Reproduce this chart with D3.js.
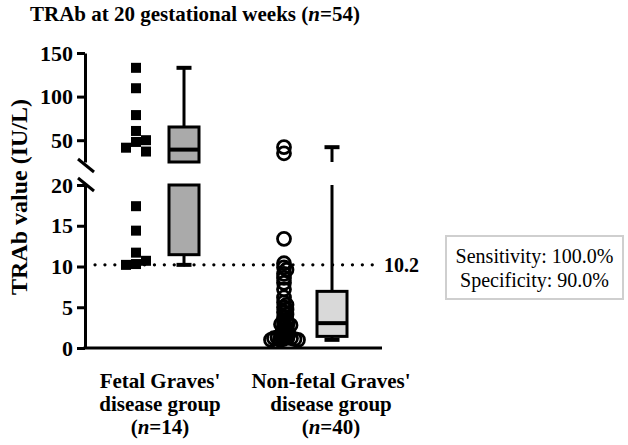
<!DOCTYPE html>
<html>
<head>
<meta charset="utf-8">
<script src="https://cdn.jsdelivr.net/npm/d3@7"></script>
<style>
  body { margin: 0; background: #fff; }
  svg { display: block; font-family: "Liberation Serif", "Times New Roman", serif; }
</style>
</head>
<body>
<svg id="chart" width="628" height="445"></svg>
<script>
// data
var groups = ["fetal", "nonfetal"];
var groupLines = [["Fetal Graves'", "disease group"], ["Non-fetal Graves'", "disease group"]];
var groupN = [14, 40];
var fetalValues = [133, 109.6, 78.8, 60.6, 50, 48, 41.4, 37, 17.4, 14.4, 11.7, 10.7, 10.3, 10.2];
var nonFetalValues = [42, 35, 13.4, 10.4, 9.9, 9.6, 9.1, 8.6, 8.0, 7.2,
  6.2, 5.6, 5.3, 5.0, 4.7, 4.4, 4.1, 3.7, 3.4, 3.1,
  3.0, 2.9, 2.8, 2.6, 2.4, 2.2, 2.0, 1.8, 1.7, 1.5,
  1.4, 1.3, 1.3, 1.2, 1.2, 1.1, 1.1, 1.0, 1.0, 1.0];
var lowTicks = [0, 5, 10, 15, 20];
var highTicks = [50, 100, 150];
var cutoff = 10.2;
var statsText = ["Sensitivity: 100.0%", "Specificity: 90.0%"];

var svg = d3.select("#chart");
var serif = "Liberation Serif, Times New Roman, serif";

// two y segments with a break between them
var yLow = d3.scaleLinear().domain([0, 20]).range([348, 185]);
var yHigh = d3.scaleLinear().domain([25, 150]).range([162, 53]);
function yPos(v) { return v <= 20 ? yLow(v) : yHigh(v); }

var x = d3.scalePoint().domain(groups).range([160, 308]);
var axisX = 85, plotRight = 382;

// title
var title = svg.append("text").attr("x", 30).attr("y", 21)
  .style("font-size", "21px").style("font-weight", "bold");
title.append("tspan").text("TRAb at 20 gestational weeks (");
title.append("tspan").style("font-style", "italic").text("n");
title.append("tspan").text("=54)");

// y label
svg.append("text")
  .attr("transform", "translate(27,197) rotate(-90)")
  .attr("text-anchor", "middle")
  .style("font-size", "24px").style("font-weight", "bold")
  .text("TRAb value (IU/L)");

function styleAxis(g) {
  g.selectAll("path, line").attr("stroke", "#000").attr("stroke-width", 3);
  g.selectAll("text").attr("fill", "#000")
    .style("font-size", "22px").style("font-weight", "bold")
    .style("font-family", serif);
}

svg.append("g").attr("transform", "translate(" + axisX + ",0)")
  .call(d3.axisLeft(yLow).tickValues(lowTicks).tickSize(8).tickSizeOuter(0).tickPadding(4))
  .call(styleAxis);
svg.append("g").attr("transform", "translate(" + axisX + ",0)")
  .call(d3.axisLeft(yHigh).tickValues(highTicks).tickSize(8).tickSizeOuter(0).tickPadding(4))
  .call(styleAxis);

// break slashes
[yHigh(25) + 3, yLow(20) - 1].forEach(function(cy) {
  svg.append("line").attr("x1", axisX - 7).attr("y1", cy - 6)
    .attr("x2", axisX + 9).attr("y2", cy + 7)
    .attr("stroke", "#000").attr("stroke-width", 3);
});

// x axis line
svg.append("line").attr("x1", axisX - 1.5).attr("x2", plotRight)
  .attr("y1", yLow(0)).attr("y2", yLow(0))
  .attr("stroke", "#000").attr("stroke-width", 3);

// cutoff line
svg.append("line").attr("x1", axisX + 10).attr("x2", plotRight)
  .attr("y1", yLow(cutoff)).attr("y2", yLow(cutoff))
  .attr("stroke", "#000").attr("stroke-width", 3.2)
  .attr("stroke-linecap", "round").attr("stroke-dasharray", "0.1 9.8");
svg.append("text").attr("x", plotRight + 2).attr("y", yLow(cutoff) + 7)
  .style("font-size", "20px").style("font-weight", "bold").text(cutoff);

// prism style quartiles
function quart(sorted, p) {
  var n = sorted.length, h = (n + 1) * p, lo = Math.floor(h);
  if (lo < 1) return sorted[0];
  if (lo >= n) return sorted[n - 1];
  return sorted[lo - 1] + (h - lo) * (sorted[lo] - sorted[lo - 1]);
}

// simple beeswarm: each point takes the nearest free offset
function swarm(values, minD, chebyshev) {
  var placed = [];
  var order = values.slice().sort(function(a, b) { return b - a; });
  order.forEach(function(v) {
    var y = yPos(v), dx = 0;
    for (var k = 0; k < 200; k++) {
      var cand = (k % 2 ? 1 : -1) * Math.ceil(k / 2) * 0.5;
      var ok = placed.every(function(p) {
        var ax = Math.abs(p.dx - cand), ay = Math.abs(p.y - y);
        return chebyshev ? Math.max(ax, ay) >= minD : Math.sqrt(ax * ax + ay * ay) >= minD;
      });
      if (ok) { dx = cand; break; }
    }
    placed.push({ v: v, y: y, dx: dx });
  });
  return placed;
}

var allValues = [fetalValues, nonFetalValues];
var boxFill = ["#aaaaaa", "#d9d9d9"];
var boxW = 30, capW = 15;

allValues.forEach(function(vals, i) {
  var cx = x(groups[i]);
  var px = cx - 24, bx = cx + 24;
  var s = vals.slice().sort(d3.ascending);
  var q1 = quart(s, 0.25), med = quart(s, 0.5), q3 = quart(s, 0.75);
  var mn = s[0], mx = s[s.length - 1];
  var g = svg.append("g");

  // whiskers, piece by piece around the break
  function vseg(a, b) {
    var pieces = [];
    if (a < 20) pieces.push([yLow(a), yLow(Math.min(b, 20))]);
    if (b > 25) pieces.push([yHigh(Math.max(a, 25)), yHigh(b)]);
    pieces.forEach(function(p) {
      g.append("line").attr("x1", bx).attr("x2", bx).attr("y1", p[0]).attr("y2", p[1])
        .attr("stroke", "#000").attr("stroke-width", 3);
    });
  }
  vseg(mn, q1);
  vseg(q3, mx);
  [mn, mx].forEach(function(v) {
    g.append("line").attr("x1", bx - capW / 2).attr("x2", bx + capW / 2)
      .attr("y1", yPos(v)).attr("y2", yPos(v))
      .attr("stroke", "#000").attr("stroke-width", 4);
  });

  // box pieces
  var pieces = [];
  if (q1 < 20) pieces.push([yLow(Math.min(q3, 20)), yLow(q1)]);
  if (q3 > 25) pieces.push([yHigh(q3), yHigh(Math.max(q1, 25))]);
  pieces.forEach(function(p) {
    g.append("rect").attr("x", bx - boxW / 2).attr("width", boxW)
      .attr("y", p[0]).attr("height", p[1] - p[0])
      .attr("fill", boxFill[i]).attr("stroke", "#000").attr("stroke-width", 3);
  });
  g.append("line").attr("x1", bx - boxW / 2).attr("x2", bx + boxW / 2)
    .attr("y1", yPos(med)).attr("y2", yPos(med))
    .attr("stroke", "#000").attr("stroke-width", 4);

  // points
  if (i === 0) {
    var pts = swarm(vals, 10, true);
    g.selectAll("rect.pt").data(pts).enter().append("rect").attr("class", "pt")
      .attr("x", function(d) { return px + d.dx - 5; })
      .attr("y", function(d) { return d.y - 5; })
      .attr("width", 10).attr("height", 10).attr("fill", "#000");
  } else {
    var pts2 = swarm(vals, 3.4, false);
    g.selectAll("circle.pt").data(pts2).enter().append("circle").attr("class", "pt")
      .attr("cx", function(d) { return px + d.dx; })
      .attr("cy", function(d) { return d.y; })
      .attr("r", 6.5).attr("fill", "none").attr("stroke", "#000").attr("stroke-width", 2.8);
  }
});

// category labels
var labelX = [x(groups[0]), x(groups[1]) + 23];
groups.forEach(function(gname, i) {
  var t = svg.append("text").attr("text-anchor", "middle")
    .style("font-size", "21px").style("font-weight", "bold");
  groupLines[i].forEach(function(line, j) {
    t.append("tspan").attr("x", labelX[i]).attr("y", 388 + j * 23).text(line);
  });
  var last = t.append("tspan").attr("x", labelX[i]).attr("y", 434);
  last.append("tspan").text("(");
  last.append("tspan").style("font-style", "italic").text("n");
  last.append("tspan").text("=" + groupN[i] + ")");
});

// sensitivity / specificity box
svg.append("rect").attr("x", 446).attr("y", 236).attr("width", 177).attr("height", 63)
  .attr("fill", "#fff").attr("stroke", "#cfcfcf").attr("stroke-width", 2);
statsText.forEach(function(t, i) {
  svg.append("text").attr("x", 534.5).attr("y", 263 + i * 24)
    .attr("text-anchor", "middle").style("font-size", "20px").text(t);
});
</script>
</body>
</html>
